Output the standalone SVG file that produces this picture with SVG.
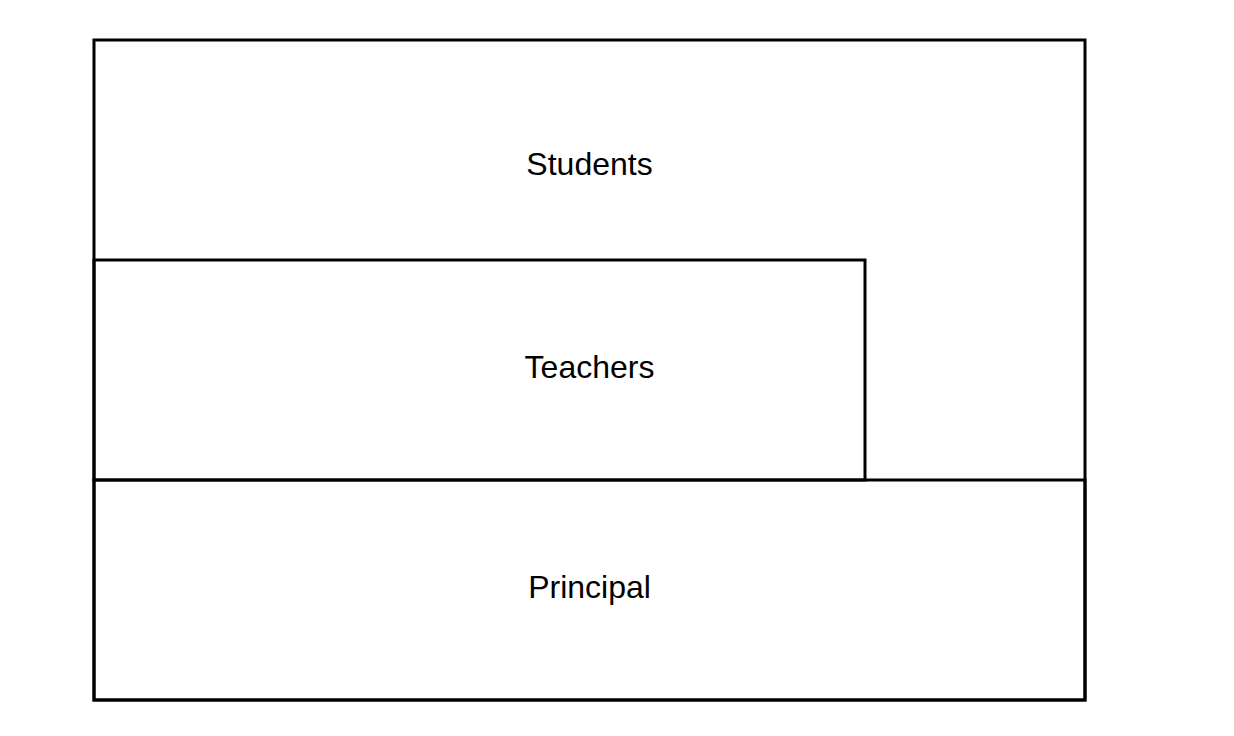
<svg xmlns="http://www.w3.org/2000/svg" width="1234" height="736" viewBox="0 0 1234 736">
  <style>
    .box { fill: none; stroke: #000; stroke-width: 3; }
    .label { font-family: "Liberation Sans", Arial, sans-serif; font-size: 32px; fill: #000; text-anchor: middle; }
  </style>
  <rect x="0" y="0" width="1234" height="736" fill="#fff"/>
  <g id="students">
    <rect class="box" x="94" y="40" width="991" height="660"/>
    <text class="label" x="589.5" y="175">Students</text>
  </g>
  <g id="teachers">
    <rect class="box" x="94" y="260" width="771" height="220"/>
    <text class="label" x="589.5" y="378">Teachers</text>
  </g>
  <g id="principal">
    <rect class="box" x="94" y="480" width="991" height="220"/>
    <text class="label" x="589.5" y="598">Principal</text>
  </g>
  <g id="connectors"/>
</svg>
